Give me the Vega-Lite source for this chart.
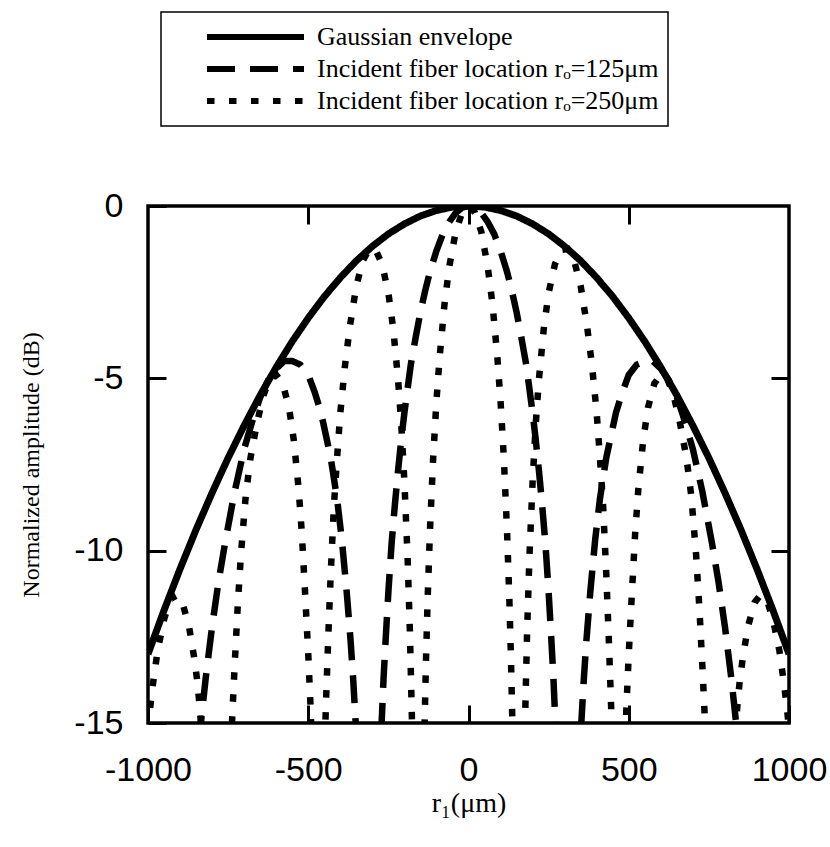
{
  "$schema": "https://vega.github.io/schema/vega-lite/v6.json",
  "autosize": "none",
  "width": 641,
  "height": 517,
  "padding": {"left": 148, "top": 206, "right": 41, "bottom": 124},
  "background": "white",
  "config": {"view": {"stroke": "black", "strokeWidth": 3.5}, "legend": {"strokeWidth": 1.5}},
  "data": {"values": [
    {"series": "Gaussian envelope", "r1": -1000, "dB": -13.0},
    {"series": "Gaussian envelope", "r1": -950, "dB": -11.73},
    {"series": "Gaussian envelope", "r1": -900, "dB": -10.53},
    {"series": "Gaussian envelope", "r1": -850, "dB": -9.39},
    {"series": "Gaussian envelope", "r1": -800, "dB": -8.32},
    {"series": "Gaussian envelope", "r1": -750, "dB": -7.31},
    {"series": "Gaussian envelope", "r1": -700, "dB": -6.37},
    {"series": "Gaussian envelope", "r1": -650, "dB": -5.49},
    {"series": "Gaussian envelope", "r1": -600, "dB": -4.68},
    {"series": "Gaussian envelope", "r1": -550, "dB": -3.93},
    {"series": "Gaussian envelope", "r1": -500, "dB": -3.25},
    {"series": "Gaussian envelope", "r1": -450, "dB": -2.63},
    {"series": "Gaussian envelope", "r1": -400, "dB": -2.08},
    {"series": "Gaussian envelope", "r1": -350, "dB": -1.59},
    {"series": "Gaussian envelope", "r1": -300, "dB": -1.17},
    {"series": "Gaussian envelope", "r1": -250, "dB": -0.81},
    {"series": "Gaussian envelope", "r1": -200, "dB": -0.52},
    {"series": "Gaussian envelope", "r1": -150, "dB": -0.29},
    {"series": "Gaussian envelope", "r1": -100, "dB": -0.13},
    {"series": "Gaussian envelope", "r1": -50, "dB": -0.03},
    {"series": "Gaussian envelope", "r1": 0, "dB": 0},
    {"series": "Gaussian envelope", "r1": 50, "dB": -0.03},
    {"series": "Gaussian envelope", "r1": 100, "dB": -0.13},
    {"series": "Gaussian envelope", "r1": 150, "dB": -0.29},
    {"series": "Gaussian envelope", "r1": 200, "dB": -0.52},
    {"series": "Gaussian envelope", "r1": 250, "dB": -0.81},
    {"series": "Gaussian envelope", "r1": 300, "dB": -1.17},
    {"series": "Gaussian envelope", "r1": 350, "dB": -1.59},
    {"series": "Gaussian envelope", "r1": 400, "dB": -2.08},
    {"series": "Gaussian envelope", "r1": 450, "dB": -2.63},
    {"series": "Gaussian envelope", "r1": 500, "dB": -3.25},
    {"series": "Gaussian envelope", "r1": 550, "dB": -3.93},
    {"series": "Gaussian envelope", "r1": 600, "dB": -4.68},
    {"series": "Gaussian envelope", "r1": 650, "dB": -5.49},
    {"series": "Gaussian envelope", "r1": 700, "dB": -6.37},
    {"series": "Gaussian envelope", "r1": 750, "dB": -7.31},
    {"series": "Gaussian envelope", "r1": 800, "dB": -8.32},
    {"series": "Gaussian envelope", "r1": 850, "dB": -9.39},
    {"series": "Gaussian envelope", "r1": 900, "dB": -10.53},
    {"series": "Gaussian envelope", "r1": 950, "dB": -11.73},
    {"series": "Gaussian envelope", "r1": 1000, "dB": -13.0},

    {"series": "Incident fiber location rₒ=125μm", "r1": -1000, "dB": -22},
    {"series": "Incident fiber location rₒ=125μm", "r1": -980, "dB": -24},
    {"series": "Incident fiber location rₒ=125μm", "r1": -930, "dB": -35},
    {"series": "Incident fiber location rₒ=125μm", "r1": -880, "dB": -21},
    {"series": "Incident fiber location rₒ=125μm", "r1": -850, "dB": -16.8},
    {"series": "Incident fiber location rₒ=125μm", "r1": -835, "dB": -15.0},
    {"series": "Incident fiber location rₒ=125μm", "r1": -820, "dB": -13.7},
    {"series": "Incident fiber location rₒ=125μm", "r1": -800, "dB": -12.2},
    {"series": "Incident fiber location rₒ=125μm", "r1": -780, "dB": -10.9},
    {"series": "Incident fiber location rₒ=125μm", "r1": -760, "dB": -9.8},
    {"series": "Incident fiber location rₒ=125μm", "r1": -730, "dB": -8.3},
    {"series": "Incident fiber location rₒ=125μm", "r1": -700, "dB": -7.05},
    {"series": "Incident fiber location rₒ=125μm", "r1": -670, "dB": -6.1},
    {"series": "Incident fiber location rₒ=125μm", "r1": -650, "dB": -5.55},
    {"series": "Incident fiber location rₒ=125μm", "r1": -625, "dB": -5.05},
    {"series": "Incident fiber location rₒ=125μm", "r1": -600, "dB": -4.72},
    {"series": "Incident fiber location rₒ=125μm", "r1": -575, "dB": -4.5},
    {"series": "Incident fiber location rₒ=125μm", "r1": -550, "dB": -4.5},
    {"series": "Incident fiber location rₒ=125μm", "r1": -525, "dB": -4.6},
    {"series": "Incident fiber location rₒ=125μm", "r1": -500, "dB": -4.9},
    {"series": "Incident fiber location rₒ=125μm", "r1": -480, "dB": -5.4},
    {"series": "Incident fiber location rₒ=125μm", "r1": -460, "dB": -6.0},
    {"series": "Incident fiber location rₒ=125μm", "r1": -430, "dB": -7.3},
    {"series": "Incident fiber location rₒ=125μm", "r1": -410, "dB": -8.5},
    {"series": "Incident fiber location rₒ=125μm", "r1": -395, "dB": -9.7},
    {"series": "Incident fiber location rₒ=125μm", "r1": -380, "dB": -11.2},
    {"series": "Incident fiber location rₒ=125μm", "r1": -368, "dB": -12.6},
    {"series": "Incident fiber location rₒ=125μm", "r1": -360, "dB": -13.7},
    {"series": "Incident fiber location rₒ=125μm", "r1": -352, "dB": -15.0},
    {"series": "Incident fiber location rₒ=125μm", "r1": -345, "dB": -16.5},
    {"series": "Incident fiber location rₒ=125μm", "r1": -335, "dB": -18.5},
    {"series": "Incident fiber location rₒ=125μm", "r1": -310, "dB": -35},
    {"series": "Incident fiber location rₒ=125μm", "r1": -285, "dB": -18},
    {"series": "Incident fiber location rₒ=125μm", "r1": -272, "dB": -15.2},
    {"series": "Incident fiber location rₒ=125μm", "r1": -265, "dB": -13.7},
    {"series": "Incident fiber location rₒ=125μm", "r1": -258, "dB": -12.5},
    {"series": "Incident fiber location rₒ=125μm", "r1": -250, "dB": -11.2},
    {"series": "Incident fiber location rₒ=125μm", "r1": -240, "dB": -9.8},
    {"series": "Incident fiber location rₒ=125μm", "r1": -230, "dB": -8.7},
    {"series": "Incident fiber location rₒ=125μm", "r1": -220, "dB": -7.7},
    {"series": "Incident fiber location rₒ=125μm", "r1": -210, "dB": -6.8},
    {"series": "Incident fiber location rₒ=125μm", "r1": -200, "dB": -6.0},
    {"series": "Incident fiber location rₒ=125μm", "r1": -190, "dB": -5.3},
    {"series": "Incident fiber location rₒ=125μm", "r1": -180, "dB": -4.6},
    {"series": "Incident fiber location rₒ=125μm", "r1": -165, "dB": -3.82},
    {"series": "Incident fiber location rₒ=125μm", "r1": -150, "dB": -3.08},
    {"series": "Incident fiber location rₒ=125μm", "r1": -135, "dB": -2.45},
    {"series": "Incident fiber location rₒ=125μm", "r1": -120, "dB": -1.9},
    {"series": "Incident fiber location rₒ=125μm", "r1": -100, "dB": -1.3},
    {"series": "Incident fiber location rₒ=125μm", "r1": -80, "dB": -0.81},
    {"series": "Incident fiber location rₒ=125μm", "r1": -60, "dB": -0.46},
    {"series": "Incident fiber location rₒ=125μm", "r1": -40, "dB": -0.2},
    {"series": "Incident fiber location rₒ=125μm", "r1": -20, "dB": -0.05},
    {"series": "Incident fiber location rₒ=125μm", "r1": 0, "dB": 0},
    {"series": "Incident fiber location rₒ=125μm", "r1": 20, "dB": -0.05},
    {"series": "Incident fiber location rₒ=125μm", "r1": 40, "dB": -0.2},
    {"series": "Incident fiber location rₒ=125μm", "r1": 60, "dB": -0.46},
    {"series": "Incident fiber location rₒ=125μm", "r1": 80, "dB": -0.81},
    {"series": "Incident fiber location rₒ=125μm", "r1": 100, "dB": -1.3},
    {"series": "Incident fiber location rₒ=125μm", "r1": 120, "dB": -1.9},
    {"series": "Incident fiber location rₒ=125μm", "r1": 135, "dB": -2.45},
    {"series": "Incident fiber location rₒ=125μm", "r1": 150, "dB": -3.08},
    {"series": "Incident fiber location rₒ=125μm", "r1": 165, "dB": -3.82},
    {"series": "Incident fiber location rₒ=125μm", "r1": 180, "dB": -4.6},
    {"series": "Incident fiber location rₒ=125μm", "r1": 190, "dB": -5.3},
    {"series": "Incident fiber location rₒ=125μm", "r1": 200, "dB": -6.0},
    {"series": "Incident fiber location rₒ=125μm", "r1": 210, "dB": -6.8},
    {"series": "Incident fiber location rₒ=125μm", "r1": 220, "dB": -7.7},
    {"series": "Incident fiber location rₒ=125μm", "r1": 230, "dB": -8.7},
    {"series": "Incident fiber location rₒ=125μm", "r1": 240, "dB": -9.8},
    {"series": "Incident fiber location rₒ=125μm", "r1": 250, "dB": -11.2},
    {"series": "Incident fiber location rₒ=125μm", "r1": 258, "dB": -12.5},
    {"series": "Incident fiber location rₒ=125μm", "r1": 265, "dB": -13.7},
    {"series": "Incident fiber location rₒ=125μm", "r1": 272, "dB": -15.2},
    {"series": "Incident fiber location rₒ=125μm", "r1": 285, "dB": -18},
    {"series": "Incident fiber location rₒ=125μm", "r1": 310, "dB": -35},
    {"series": "Incident fiber location rₒ=125μm", "r1": 335, "dB": -18.5},
    {"series": "Incident fiber location rₒ=125μm", "r1": 345, "dB": -16.5},
    {"series": "Incident fiber location rₒ=125μm", "r1": 352, "dB": -15.0},
    {"series": "Incident fiber location rₒ=125μm", "r1": 360, "dB": -13.7},
    {"series": "Incident fiber location rₒ=125μm", "r1": 368, "dB": -12.6},
    {"series": "Incident fiber location rₒ=125μm", "r1": 380, "dB": -11.2},
    {"series": "Incident fiber location rₒ=125μm", "r1": 395, "dB": -9.7},
    {"series": "Incident fiber location rₒ=125μm", "r1": 410, "dB": -8.5},
    {"series": "Incident fiber location rₒ=125μm", "r1": 430, "dB": -7.3},
    {"series": "Incident fiber location rₒ=125μm", "r1": 460, "dB": -6.0},
    {"series": "Incident fiber location rₒ=125μm", "r1": 480, "dB": -5.4},
    {"series": "Incident fiber location rₒ=125μm", "r1": 500, "dB": -4.9},
    {"series": "Incident fiber location rₒ=125μm", "r1": 525, "dB": -4.6},
    {"series": "Incident fiber location rₒ=125μm", "r1": 550, "dB": -4.5},
    {"series": "Incident fiber location rₒ=125μm", "r1": 575, "dB": -4.5},
    {"series": "Incident fiber location rₒ=125μm", "r1": 600, "dB": -4.72},
    {"series": "Incident fiber location rₒ=125μm", "r1": 625, "dB": -5.05},
    {"series": "Incident fiber location rₒ=125μm", "r1": 650, "dB": -5.55},
    {"series": "Incident fiber location rₒ=125μm", "r1": 670, "dB": -6.1},
    {"series": "Incident fiber location rₒ=125μm", "r1": 700, "dB": -7.05},
    {"series": "Incident fiber location rₒ=125μm", "r1": 730, "dB": -8.3},
    {"series": "Incident fiber location rₒ=125μm", "r1": 760, "dB": -9.8},
    {"series": "Incident fiber location rₒ=125μm", "r1": 780, "dB": -10.9},
    {"series": "Incident fiber location rₒ=125μm", "r1": 800, "dB": -12.2},
    {"series": "Incident fiber location rₒ=125μm", "r1": 820, "dB": -13.7},
    {"series": "Incident fiber location rₒ=125μm", "r1": 835, "dB": -15.0},
    {"series": "Incident fiber location rₒ=125μm", "r1": 850, "dB": -16.8},
    {"series": "Incident fiber location rₒ=125μm", "r1": 880, "dB": -21},
    {"series": "Incident fiber location rₒ=125μm", "r1": 930, "dB": -35},
    {"series": "Incident fiber location rₒ=125μm", "r1": 980, "dB": -24},
    {"series": "Incident fiber location rₒ=125μm", "r1": 1000, "dB": -22},

    {"series": "Incident fiber location rₒ=250μm", "r1": -1000, "dB": -15.2},
    {"series": "Incident fiber location rₒ=250μm", "r1": -995, "dB": -14.7},
    {"series": "Incident fiber location rₒ=250μm", "r1": -985, "dB": -13.9},
    {"series": "Incident fiber location rₒ=250μm", "r1": -970, "dB": -12.9},
    {"series": "Incident fiber location rₒ=250μm", "r1": -950, "dB": -12.0},
    {"series": "Incident fiber location rₒ=250μm", "r1": -930, "dB": -11.4},
    {"series": "Incident fiber location rₒ=250μm", "r1": -910, "dB": -11.3},
    {"series": "Incident fiber location rₒ=250μm", "r1": -893, "dB": -11.5},
    {"series": "Incident fiber location rₒ=250μm", "r1": -872, "dB": -12.2},
    {"series": "Incident fiber location rₒ=250μm", "r1": -856, "dB": -13.1},
    {"series": "Incident fiber location rₒ=250μm", "r1": -846, "dB": -13.8},
    {"series": "Incident fiber location rₒ=250μm", "r1": -838, "dB": -14.6},
    {"series": "Incident fiber location rₒ=250μm", "r1": -828, "dB": -16},
    {"series": "Incident fiber location rₒ=250μm", "r1": -815, "dB": -19},
    {"series": "Incident fiber location rₒ=250μm", "r1": -790, "dB": -25},
    {"series": "Incident fiber location rₒ=250μm", "r1": -775, "dB": -35},
    {"series": "Incident fiber location rₒ=250μm", "r1": -748, "dB": -18.5},
    {"series": "Incident fiber location rₒ=250μm", "r1": -738, "dB": -15.0},
    {"series": "Incident fiber location rₒ=250μm", "r1": -730, "dB": -13.4},
    {"series": "Incident fiber location rₒ=250μm", "r1": -720, "dB": -11.6},
    {"series": "Incident fiber location rₒ=250μm", "r1": -710, "dB": -10.1},
    {"series": "Incident fiber location rₒ=250μm", "r1": -695, "dB": -8.4},
    {"series": "Incident fiber location rₒ=250μm", "r1": -680, "dB": -7.3},
    {"series": "Incident fiber location rₒ=250μm", "r1": -660, "dB": -6.3},
    {"series": "Incident fiber location rₒ=250μm", "r1": -640, "dB": -5.5},
    {"series": "Incident fiber location rₒ=250μm", "r1": -620, "dB": -5.0},
    {"series": "Incident fiber location rₒ=250μm", "r1": -600, "dB": -4.9},
    {"series": "Incident fiber location rₒ=250μm", "r1": -580, "dB": -5.15},
    {"series": "Incident fiber location rₒ=250μm", "r1": -560, "dB": -5.85},
    {"series": "Incident fiber location rₒ=250μm", "r1": -545, "dB": -6.8},
    {"series": "Incident fiber location rₒ=250μm", "r1": -530, "dB": -8.2},
    {"series": "Incident fiber location rₒ=250μm", "r1": -520, "dB": -9.5},
    {"series": "Incident fiber location rₒ=250μm", "r1": -510, "dB": -11.2},
    {"series": "Incident fiber location rₒ=250μm", "r1": -500, "dB": -13.0},
    {"series": "Incident fiber location rₒ=250μm", "r1": -492.5, "dB": -14.6},
    {"series": "Incident fiber location rₒ=250μm", "r1": -487.5, "dB": -16.0},
    {"series": "Incident fiber location rₒ=250μm", "r1": -478, "dB": -20},
    {"series": "Incident fiber location rₒ=250μm", "r1": -465, "dB": -35},
    {"series": "Incident fiber location rₒ=250μm", "r1": -452, "dB": -17},
    {"series": "Incident fiber location rₒ=250μm", "r1": -445, "dB": -14.5},
    {"series": "Incident fiber location rₒ=250μm", "r1": -437.5, "dB": -12.5},
    {"series": "Incident fiber location rₒ=250μm", "r1": -430, "dB": -10.7},
    {"series": "Incident fiber location rₒ=250μm", "r1": -420, "dB": -8.7},
    {"series": "Incident fiber location rₒ=250μm", "r1": -410, "dB": -7.3},
    {"series": "Incident fiber location rₒ=250μm", "r1": -400, "dB": -6.0},
    {"series": "Incident fiber location rₒ=250μm", "r1": -385, "dB": -4.6},
    {"series": "Incident fiber location rₒ=250μm", "r1": -370, "dB": -3.49},
    {"series": "Incident fiber location rₒ=250μm", "r1": -350, "dB": -2.32},
    {"series": "Incident fiber location rₒ=250μm", "r1": -330, "dB": -1.6},
    {"series": "Incident fiber location rₒ=250μm", "r1": -310, "dB": -1.25},
    {"series": "Incident fiber location rₒ=250μm", "r1": -290, "dB": -1.27},
    {"series": "Incident fiber location rₒ=250μm", "r1": -270, "dB": -1.68},
    {"series": "Incident fiber location rₒ=250μm", "r1": -250, "dB": -2.52},
    {"series": "Incident fiber location rₒ=250μm", "r1": -235, "dB": -3.55},
    {"series": "Incident fiber location rₒ=250μm", "r1": -220, "dB": -5.0},
    {"series": "Incident fiber location rₒ=250μm", "r1": -210, "dB": -6.3},
    {"series": "Incident fiber location rₒ=250μm", "r1": -200, "dB": -8.0},
    {"series": "Incident fiber location rₒ=250μm", "r1": -190, "dB": -10.2},
    {"series": "Incident fiber location rₒ=250μm", "r1": -183, "dB": -12.3},
    {"series": "Incident fiber location rₒ=250μm", "r1": -178, "dB": -14.3},
    {"series": "Incident fiber location rₒ=250μm", "r1": -172.5, "dB": -16.5},
    {"series": "Incident fiber location rₒ=250μm", "r1": -165, "dB": -20},
    {"series": "Incident fiber location rₒ=250μm", "r1": -155, "dB": -35},
    {"series": "Incident fiber location rₒ=250μm", "r1": -145, "dB": -19},
    {"series": "Incident fiber location rₒ=250μm", "r1": -137.5, "dB": -15.25},
    {"series": "Incident fiber location rₒ=250μm", "r1": -132.5, "dB": -13.13},
    {"series": "Incident fiber location rₒ=250μm", "r1": -127.5, "dB": -11.41},
    {"series": "Incident fiber location rₒ=250μm", "r1": -120, "dB": -9.36},
    {"series": "Incident fiber location rₒ=250μm", "r1": -110, "dB": -7.27},
    {"series": "Incident fiber location rₒ=250μm", "r1": -100, "dB": -5.66},
    {"series": "Incident fiber location rₒ=250μm", "r1": -90, "dB": -4.38},
    {"series": "Incident fiber location rₒ=250μm", "r1": -75, "dB": -2.86},
    {"series": "Incident fiber location rₒ=250μm", "r1": -60, "dB": -1.76},
    {"series": "Incident fiber location rₒ=250μm", "r1": -40, "dB": -0.75},
    {"series": "Incident fiber location rₒ=250μm", "r1": -20, "dB": -0.19},
    {"series": "Incident fiber location rₒ=250μm", "r1": 0, "dB": 0},
    {"series": "Incident fiber location rₒ=250μm", "r1": 20, "dB": -0.19},
    {"series": "Incident fiber location rₒ=250μm", "r1": 40, "dB": -0.75},
    {"series": "Incident fiber location rₒ=250μm", "r1": 60, "dB": -1.76},
    {"series": "Incident fiber location rₒ=250μm", "r1": 75, "dB": -2.86},
    {"series": "Incident fiber location rₒ=250μm", "r1": 90, "dB": -4.38},
    {"series": "Incident fiber location rₒ=250μm", "r1": 100, "dB": -5.66},
    {"series": "Incident fiber location rₒ=250μm", "r1": 110, "dB": -7.27},
    {"series": "Incident fiber location rₒ=250μm", "r1": 120, "dB": -9.36},
    {"series": "Incident fiber location rₒ=250μm", "r1": 127.5, "dB": -11.41},
    {"series": "Incident fiber location rₒ=250μm", "r1": 132.5, "dB": -13.13},
    {"series": "Incident fiber location rₒ=250μm", "r1": 137.5, "dB": -15.25},
    {"series": "Incident fiber location rₒ=250μm", "r1": 145, "dB": -19},
    {"series": "Incident fiber location rₒ=250μm", "r1": 155, "dB": -35},
    {"series": "Incident fiber location rₒ=250μm", "r1": 165, "dB": -20},
    {"series": "Incident fiber location rₒ=250μm", "r1": 172.5, "dB": -16.5},
    {"series": "Incident fiber location rₒ=250μm", "r1": 178, "dB": -14.3},
    {"series": "Incident fiber location rₒ=250μm", "r1": 183, "dB": -12.3},
    {"series": "Incident fiber location rₒ=250μm", "r1": 190, "dB": -10.2},
    {"series": "Incident fiber location rₒ=250μm", "r1": 200, "dB": -8.0},
    {"series": "Incident fiber location rₒ=250μm", "r1": 210, "dB": -6.3},
    {"series": "Incident fiber location rₒ=250μm", "r1": 220, "dB": -5.0},
    {"series": "Incident fiber location rₒ=250μm", "r1": 235, "dB": -3.55},
    {"series": "Incident fiber location rₒ=250μm", "r1": 250, "dB": -2.52},
    {"series": "Incident fiber location rₒ=250μm", "r1": 270, "dB": -1.68},
    {"series": "Incident fiber location rₒ=250μm", "r1": 290, "dB": -1.27},
    {"series": "Incident fiber location rₒ=250μm", "r1": 310, "dB": -1.25},
    {"series": "Incident fiber location rₒ=250μm", "r1": 330, "dB": -1.6},
    {"series": "Incident fiber location rₒ=250μm", "r1": 350, "dB": -2.32},
    {"series": "Incident fiber location rₒ=250μm", "r1": 370, "dB": -3.49},
    {"series": "Incident fiber location rₒ=250μm", "r1": 385, "dB": -4.6},
    {"series": "Incident fiber location rₒ=250μm", "r1": 400, "dB": -6.0},
    {"series": "Incident fiber location rₒ=250μm", "r1": 410, "dB": -7.3},
    {"series": "Incident fiber location rₒ=250μm", "r1": 420, "dB": -8.7},
    {"series": "Incident fiber location rₒ=250μm", "r1": 430, "dB": -10.7},
    {"series": "Incident fiber location rₒ=250μm", "r1": 437.5, "dB": -12.5},
    {"series": "Incident fiber location rₒ=250μm", "r1": 445, "dB": -14.5},
    {"series": "Incident fiber location rₒ=250μm", "r1": 452, "dB": -17},
    {"series": "Incident fiber location rₒ=250μm", "r1": 465, "dB": -35},
    {"series": "Incident fiber location rₒ=250μm", "r1": 478, "dB": -20},
    {"series": "Incident fiber location rₒ=250μm", "r1": 487.5, "dB": -16.0},
    {"series": "Incident fiber location rₒ=250μm", "r1": 492.5, "dB": -14.6},
    {"series": "Incident fiber location rₒ=250μm", "r1": 500, "dB": -13.0},
    {"series": "Incident fiber location rₒ=250μm", "r1": 510, "dB": -11.2},
    {"series": "Incident fiber location rₒ=250μm", "r1": 520, "dB": -9.5},
    {"series": "Incident fiber location rₒ=250μm", "r1": 530, "dB": -8.2},
    {"series": "Incident fiber location rₒ=250μm", "r1": 545, "dB": -6.8},
    {"series": "Incident fiber location rₒ=250μm", "r1": 560, "dB": -5.85},
    {"series": "Incident fiber location rₒ=250μm", "r1": 580, "dB": -5.15},
    {"series": "Incident fiber location rₒ=250μm", "r1": 600, "dB": -4.9},
    {"series": "Incident fiber location rₒ=250μm", "r1": 620, "dB": -5.0},
    {"series": "Incident fiber location rₒ=250μm", "r1": 640, "dB": -5.5},
    {"series": "Incident fiber location rₒ=250μm", "r1": 660, "dB": -6.3},
    {"series": "Incident fiber location rₒ=250μm", "r1": 680, "dB": -7.3},
    {"series": "Incident fiber location rₒ=250μm", "r1": 695, "dB": -8.4},
    {"series": "Incident fiber location rₒ=250μm", "r1": 710, "dB": -10.1},
    {"series": "Incident fiber location rₒ=250μm", "r1": 720, "dB": -11.6},
    {"series": "Incident fiber location rₒ=250μm", "r1": 730, "dB": -13.4},
    {"series": "Incident fiber location rₒ=250μm", "r1": 738, "dB": -15.0},
    {"series": "Incident fiber location rₒ=250μm", "r1": 748, "dB": -18.5},
    {"series": "Incident fiber location rₒ=250μm", "r1": 775, "dB": -35},
    {"series": "Incident fiber location rₒ=250μm", "r1": 790, "dB": -25},
    {"series": "Incident fiber location rₒ=250μm", "r1": 815, "dB": -19},
    {"series": "Incident fiber location rₒ=250μm", "r1": 828, "dB": -16},
    {"series": "Incident fiber location rₒ=250μm", "r1": 838, "dB": -14.6},
    {"series": "Incident fiber location rₒ=250μm", "r1": 846, "dB": -13.8},
    {"series": "Incident fiber location rₒ=250μm", "r1": 856, "dB": -13.1},
    {"series": "Incident fiber location rₒ=250μm", "r1": 872, "dB": -12.2},
    {"series": "Incident fiber location rₒ=250μm", "r1": 893, "dB": -11.5},
    {"series": "Incident fiber location rₒ=250μm", "r1": 910, "dB": -11.3},
    {"series": "Incident fiber location rₒ=250μm", "r1": 930, "dB": -11.4},
    {"series": "Incident fiber location rₒ=250μm", "r1": 950, "dB": -12.0},
    {"series": "Incident fiber location rₒ=250μm", "r1": 970, "dB": -12.9},
    {"series": "Incident fiber location rₒ=250μm", "r1": 985, "dB": -13.9},
    {"series": "Incident fiber location rₒ=250μm", "r1": 995, "dB": -14.7},
    {"series": "Incident fiber location rₒ=250μm", "r1": 1000, "dB": -15.2}
  ]},
  "layer": [
    {
      "transform": [{"filter": "datum.series === 'Gaussian envelope'"}],
      "mark": {"type": "line", "clip": true, "color": "black", "strokeWidth": 7},
      "encoding": {
        "x": {"field": "r1", "type": "quantitative", "scale": {"domain": [-1000, 1000], "nice": false, "zero": false},
          "axis": {"orient": "bottom", "values": [-1000, -500, 0, 500, 1000], "labelExpr": "'' + datum.value",
            "labelFont": "Liberation Sans", "labelFontSize": 34, "labelColor": "black", "labelPadding": 48,
            "labelFlush": false, "labelOverlap": false, "tickSize": -18, "tickWidth": 3, "tickColor": "black",
            "domain": false, "grid": false, "title": "r₁(μm)", "titleFont": "Liberation Serif", "titleFontSize": 28,
            "titleFontWeight": "normal", "titleColor": "black", "titlePadding": 2}},
        "y": {"field": "dB", "type": "quantitative", "scale": {"domain": [-15, 0], "nice": false, "zero": false},
          "axis": {"orient": "left", "values": [-15, -10, -5, 0], "labelExpr": "'' + datum.value",
            "labelFont": "Liberation Sans", "labelFontSize": 34, "labelColor": "black", "labelPadding": 43,
            "labelOverlap": false, "tickSize": -18, "tickWidth": 3, "tickColor": "black",
            "domain": false, "grid": false, "title": "Normalized amplitude (dB)", "titleFont": "Liberation Serif",
            "titleFontSize": 24, "titleFontWeight": "normal", "titleColor": "black", "titlePadding": 30}},
        "strokeDash": {"field": "series", "type": "nominal",
          "scale": {"domain": ["Gaussian envelope", "Incident fiber location rₒ=125μm", "Incident fiber location rₒ=250μm"],
                    "range": [[1, 0], [28, 15], [7.5, 14.5]]},
          "legend": {"title": null, "orient": "none", "legendX": 13, "legendY": -194, "direction": "vertical",
            "symbolType": "stroke", "symbolSize": 9409, "symbolStrokeWidth": 6, "symbolStrokeColor": "black",
            "symbolOffset": 34, "labelOffset": 10, "labelFont": "Liberation Serif", "labelFontSize": 26,
            "labelColor": "black", "labelLimit": 0, "clipHeight": 32, "rowPadding": 0, "padding": 9,
            "strokeColor": "black", "fillColor": "white"}}
      }
    },
    {
      "transform": [{"filter": "datum.series !== 'Gaussian envelope'"}],
      "mark": {"type": "line", "clip": true, "color": "black", "strokeWidth": 6.5},
      "encoding": {
        "x": {"field": "r1", "type": "quantitative",
          "axis": {"orient": "top", "values": [-500, 0, 500], "labels": false, "tickSize": -18, "tickWidth": 3,
            "tickColor": "black", "domain": false, "grid": false, "title": null}},
        "y": {"field": "dB", "type": "quantitative",
          "axis": {"orient": "right", "values": [-10, -5], "labels": false, "tickSize": -18, "tickWidth": 3,
            "tickColor": "black", "domain": false, "grid": false, "title": null}},
        "strokeDash": {"field": "series", "type": "nominal"}
      }
    }
  ],
  "resolve": {"axis": {"x": "independent", "y": "independent"}}
}
